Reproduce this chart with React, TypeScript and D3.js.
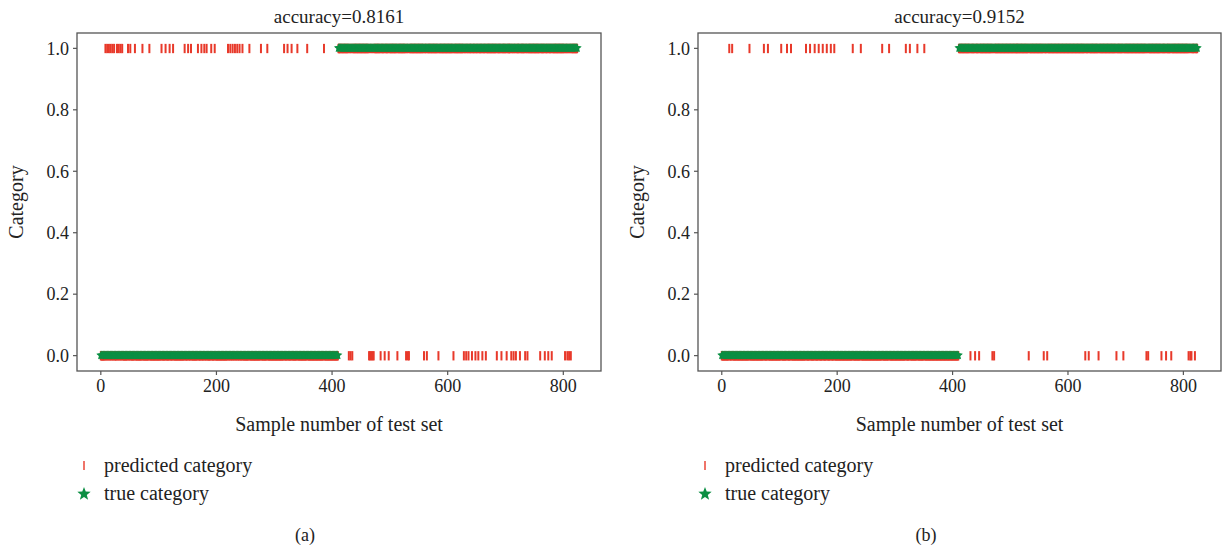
import React, { useRef, useEffect } from 'react';
import * as d3 from 'd3';

// samples 0..824, first block is category 0, rest category 1
const sampleCount = 825;
const splitIndex = 411;

// misclassified samples
const wrongTopA = [8, 11, 14, 17, 20, 23, 28, 31, 34, 37, 47, 51, 59, 72, 84, 105, 112, 119, 125, 145, 151, 156, 168, 174, 179, 183, 191, 197, 220, 224, 228, 232, 236, 240, 245, 257, 277, 288, 317, 323, 330, 340, 357, 386];
const wrongBottomA = [429, 432, 435, 464, 466, 468, 470, 472, 484, 491, 498, 513, 528, 531, 533, 559, 564, 584, 610, 628, 632, 636, 642, 648, 653, 660, 666, 685, 693, 702, 710, 714, 718, 725, 734, 738, 760, 768, 774, 780, 803, 807, 810, 813];
const wrongTopB = [13, 18, 48, 73, 80, 103, 113, 120, 146, 153, 161, 168, 175, 182, 189, 195, 227, 241, 278, 290, 319, 326, 339, 351];
const wrongBottomB = [431, 439, 446, 469, 472, 532, 558, 564, 630, 636, 653, 684, 696, 736, 739, 762, 770, 779, 809, 812, 814, 820];

const accuracies = ['0.8161', '0.9152'];
const panelTags = ['(a)', '(b)'];
const xTicks = [0, 200, 400, 600, 800];
const yTicks = [0, 0.2, 0.4, 0.6, 0.8, 1.0];
const legendLabels = ['predicted category', 'true category'];

const RED = '#e8392a';
const GREEN = '#0b8f43';
const FONT = '"Liberation Serif", "DejaVu Serif", serif';

const starPath = (r: number) => {
  const pts: string[] = [];
  for (let i = 0; i < 10; i++) {
    const rad = i % 2 === 0 ? r : r * 0.42;
    const a = -Math.PI / 2 + (i * Math.PI) / 5;
    pts.push(`${(rad * Math.cos(a)).toFixed(2)},${(rad * Math.sin(a)).toFixed(2)}`);
  }
  return 'M' + pts.join('L') + 'Z';
};

const Panel = ({ svgRef, left, right, accuracy, tag, wrongTop, wrongBottom }) => {
  useEffect(() => {
    const g = d3.select(svgRef.current).append('g');
    const top = 33, bottom = 371;

    const x = d3.scaleLinear().domain([-41.2, 865.2]).range([left, right]);
    const y = d3.scaleLinear().domain([-0.05, 1.05]).range([bottom, top]);

    const truth = d3.range(sampleCount).map(i => (i < splitIndex ? 0 : 1));
    const wrong = new Set([...wrongTop, ...wrongBottom]);
    const pred = truth.map((t, i) => (wrong.has(i) ? 1 - t : t));

    // predicted markers (vertical ticks)
    g.append('g').selectAll('line').data(pred).join('line')
      .attr('x1', (d, i) => x(i)).attr('x2', (d, i) => x(i))
      .attr('y1', d => y(d) - 4.5).attr('y2', d => y(d) + 4.8)
      .attr('stroke', RED).attr('stroke-width', 2);

    // true markers (stars)
    const star = starPath(4.8);
    g.append('g').selectAll('path').data(truth).join('path')
      .attr('d', star)
      .attr('transform', (d, i) => `translate(${x(i)},${y(d) - 0.3})`)
      .attr('fill', GREEN);

    // frame
    g.append('rect')
      .attr('x', left).attr('y', top)
      .attr('width', right - left).attr('height', bottom - top)
      .attr('fill', 'none').attr('stroke', '#555').attr('stroke-width', 1.3);

    // x axis
    xTicks.forEach(t => {
      g.append('line').attr('x1', x(t)).attr('x2', x(t)).attr('y1', bottom).attr('y2', bottom + 4)
        .attr('stroke', '#555').attr('stroke-width', 1.2);
      g.append('text').attr('x', x(t)).attr('y', bottom + 21).attr('text-anchor', 'middle')
        .attr('font-family', FONT).attr('font-size', 18).attr('fill', '#222').text(t);
    });

    // y axis
    yTicks.forEach(t => {
      g.append('line').attr('x1', left - 4).attr('x2', left).attr('y1', y(t)).attr('y2', y(t))
        .attr('stroke', '#555').attr('stroke-width', 1.2);
      g.append('text').attr('x', left - 8).attr('y', y(t)).attr('dy', '0.35em').attr('text-anchor', 'end')
        .attr('font-family', FONT).attr('font-size', 18).attr('fill', '#222').text(t.toFixed(1));
    });

    // titles and labels
    g.append('text').attr('x', (left + right) / 2).attr('y', 23).attr('text-anchor', 'middle')
      .attr('font-family', FONT).attr('font-size', 19).attr('fill', '#222').text(`accuracy=${accuracy}`);
    g.append('text').attr('x', (left + right) / 2).attr('y', 431).attr('text-anchor', 'middle')
      .attr('font-family', FONT).attr('font-size', 20).attr('fill', '#222').text('Sample number of test set');
    g.append('text').attr('transform', `translate(${left - 54},${(top + bottom) / 2}) rotate(-90)`)
      .attr('text-anchor', 'middle')
      .attr('font-family', FONT).attr('font-size', 20).attr('fill', '#222').text('Category');

    // legend
    const lx = left + 7;
    g.append('line').attr('x1', lx).attr('x2', lx).attr('y1', 461).attr('y2', 470)
      .attr('stroke', RED).attr('stroke-width', 1.4);
    g.append('path').attr('d', starPath(7)).attr('transform', `translate(${lx},${494})`).attr('fill', GREEN);
    legendLabels.forEach((lab, i) => {
      g.append('text').attr('x', left + 27).attr('y', 472 + i * 28)
        .attr('font-family', FONT).attr('font-size', 20).attr('fill', '#222').text(lab);
    });

    g.append('text').attr('x', left + 228).attr('y', 541).attr('text-anchor', 'middle')
      .attr('font-family', FONT).attr('font-size', 18).attr('fill', '#222').text(tag);

    return () => { g.remove(); };
  }, []);
  return null;
};

export default function App() {
  const ref = useRef(null);
  const [ready, setReady] = React.useState(false);
  useEffect(() => setReady(true), []);
  return (
    <div style={{ position: 'absolute', left: 0, top: 0 }}>
      <svg ref={ref} width={1222} height={550} style={{ display: 'block', background: '#fff' }} />
      {ready && (
        <>
          <Panel svgRef={ref} left={77} right={601} accuracy={accuracies[0]} tag={panelTags[0]} wrongTop={wrongTopA} wrongBottom={wrongBottomA} />
          <Panel svgRef={ref} left={698} right={1221} accuracy={accuracies[1]} tag={panelTags[1]} wrongTop={wrongTopB} wrongBottom={wrongBottomB} />
        </>
      )}
    </div>
  );
}
